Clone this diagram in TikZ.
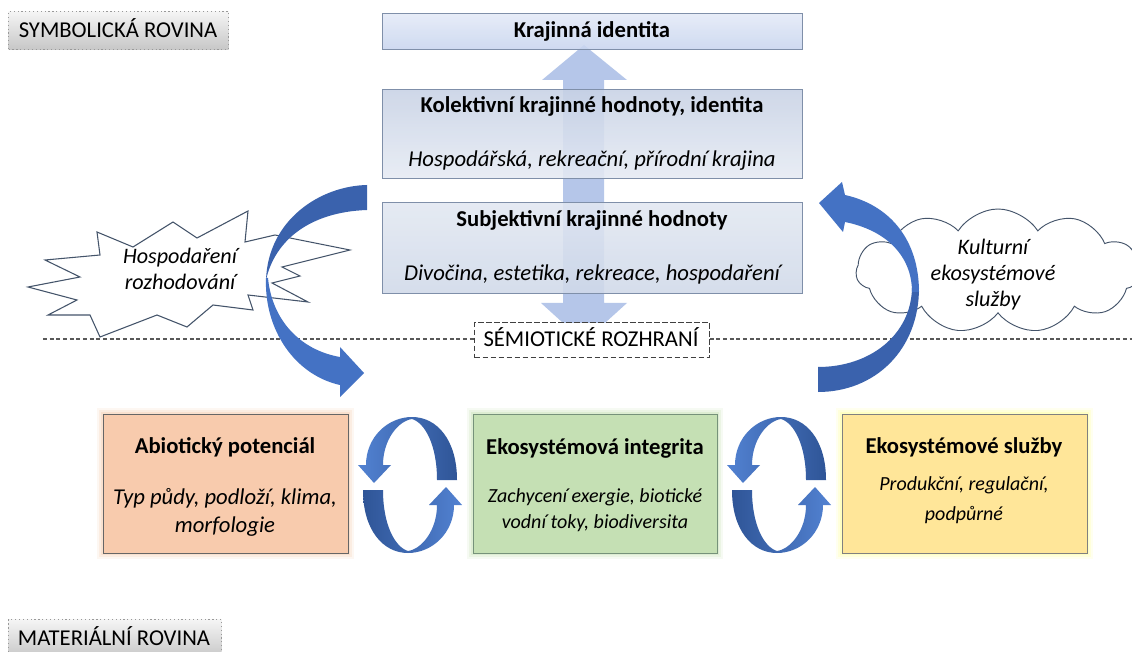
\documentclass[tikz,border=0pt]{standalone}
\usepackage{fontspec}
\setmainfont{Carlito}
\usetikzlibrary{shapes.symbols}
\definecolor{arrblue}{HTML}{4472C4}
\definecolor{arrdark}{HTML}{3A62AD}
\definecolor{cycL}{HTML}{5282D2}
\definecolor{cycD}{HTML}{2F5597}
\definecolor{bigarr}{HTML}{A9BDE6}
\definecolor{tbord}{HTML}{7F8FA9}
\definecolor{burst}{HTML}{44546A}
\definecolor{abiofill}{HTML}{F8CBAD}
\definecolor{abioglow}{HTML}{F4B183}
\definecolor{intfill}{HTML}{C5E0B4}
\definecolor{intglow}{HTML}{A9D18E}
\definecolor{ekofill}{HTML}{FFE699}
\definecolor{ekoglow}{HTML}{FFFF66}
\tikzset{
  lbl/.style={font=\fontsize{17}{20}\selectfont, anchor=base, inner sep=0},
  ttl/.style={font=\fontsize{17}{20}\selectfont\bfseries, anchor=base, inner sep=0},
  itl/.style={font=\fontsize{17}{20}\selectfont\itshape, anchor=base, inner sep=0},
  itlm/.style={font=\fontsize{16.6}{20}\selectfont\itshape, anchor=base, inner sep=0},
  itls/.style={font=\fontsize{15}{18}\selectfont\itshape, anchor=base, inner sep=0},
  planebox/.style={draw=black!40, dotted, line width=0.9pt, top color=black!4, bottom color=black!22, anchor=north west, inner sep=0},
  topbox/.style={draw=tbord, line width=0.8pt, anchor=north west, inner sep=0, fill opacity=0.88},
  matbox/.style={line width=0.8pt, anchor=north west, inner sep=0},
  cycarr/.pic={
    \path[left color=cycL, right color=cycD] (47,-5) .. controls (47,-45) and (27,-68) .. (2,-68)
      .. controls (-22,-68) and (-44,-48) .. (-44,-20) -- (-52,-20) -- (-36,-2) -- (-19,-20) -- (-27,-20)
      .. controls (-27,-45) and (-12,-64) .. (2,-66) .. controls (15,-62) and (27,-40) .. (27,-5) -- cycle;
    \path[left color=cycD, right color=cycL] (-47,5) .. controls (-47,45) and (-27,68) .. (-2,68)
      .. controls (22,68) and (44,48) .. (44,20) -- (52,20) -- (36,2) -- (19,20) -- (27,20)
      .. controls (27,45) and (12,64) .. (-2,66) .. controls (-15,62) and (-27,40) .. (-27,5) -- cycle;
  }
}
\begin{document}
\begin{tikzpicture}[x=0.75pt,y=-0.75pt]
\useasboundingbox (0,0) rectangle (1132,652);
\clip (0,0) rectangle (1132,652);
\fill[white] (0,0) rectangle (1132,652);

% plane labels
\node[planebox, minimum width=220*0.75pt, minimum height=38*0.75pt] (symb) at (8,11) {};
\node[lbl] (symbt) at (118,38) {SYMBOLICKÁ ROVINA};
\node[planebox, minimum width=213*0.75pt, minimum height=38*0.75pt] (mat) at (8,619) {};
\node[lbl] (matt) at (114,645) {MATERIÁLNÍ ROVINA};

% dashed interface line
\coordinate (dl) at (43,339);
\coordinate (dr) at (1132,339);
\draw[black!65, line width=0.9pt, dash pattern=on 3pt off 2pt] (dl) -- (dr);

% big double arrow
\fill[bigarr, opacity=0.85] (584,45) -- (627,80) -- (604,80) -- (604,303) -- (627,303) -- (584,342)
  -- (541,303) -- (563,303) -- (563,80) -- (542,80) -- cycle;

% top boxes
\node[topbox, top color={rgb,255:red,228;green,234;blue,247}, bottom color={rgb,255:red,200;green,213;blue,239},
  minimum width=420*0.75pt, minimum height=36*0.75pt] (ident) at (382,13) {};
\node[ttl] (identt) at (592,38) {Krajinná identita};
\node[topbox, top color={rgb,255:red,200;green,210;blue,229}, bottom color={rgb,255:red,230;green,235;blue,244},
  minimum width=420*0.75pt, minimum height=89*0.75pt] (kol) at (382,89) {};
\node[ttl] (kolt) at (592,113) {Kolektivní krajinné hodnoty, identita};
\node[itl] (kols) at (592,167) {Hospodářská, rekreační, přírodní krajina};
\node[topbox, top color={rgb,255:red,226;green,232;blue,242}, bottom color={rgb,255:red,208;green,217;blue,233},
  minimum width=420*0.75pt, minimum height=91*0.75pt] (sub) at (382,202) {};
\node[ttl] (subt) at (592,227) {Subjektivní krajinné hodnoty};
\node[itl] (subs) at (592,281) {Divočina, estetika, rekreace, hospodaření};

% semiotic interface
\node[draw=black!75, fill=white, line width=0.9pt, dash pattern=on 4pt off 2pt, anchor=north west, inner sep=0,
  minimum width=235*0.75pt, minimum height=35*0.75pt] (sem) at (474,322) {};
\node[lbl] (semt) at (591,347) {SÉMIOTICKÉ ROZHRANÍ};

% starburst
\draw[burst, fill=white, line width=0.8pt] (248,211) -- (245,242) -- (275,235) -- (350,250) -- (282,267)
  -- (300,276) -- (272,283) -- (308,302) -- (248,295) -- (253,310) -- (213,305) -- (187,327)
  -- (157,315) -- (100,337) -- (90,315) -- (48,315) -- (77,300) -- (28,287) -- (80,277)
  -- (45,260) -- (100,255) -- (97,232) -- (133,247) -- (173,222) -- (197,238) -- cycle;
\node[itlm] (burst1) at (180,264) {Hospodaření};
\node[itlm] (burst2) at (180,290) {rozhodování};

% left curved arrow
\fill[arrdark] (367,185) .. controls (320,186) and (268,220) .. (266,280)
  .. controls (275,240) and (310,212) .. (367,210) -- cycle;
\fill[arrblue] (266,278) .. controls (264,330) and (295,375) .. (340,385) -- (340,397) -- (364,373)
  -- (340,347) -- (340,357) .. controls (300,350) and (272,320) .. (268,278) -- cycle;

% cloud
\node[cloud, cloud puffs=11, cloud puff arc=115, aspect=2.4, draw=burst, fill=white, line width=0.7pt,
  minimum width=284*0.75pt, minimum height=124*0.75pt, inner sep=0] (cloud) at (998,271) {};
\node[itlm] (cl1) at (993,255) {Kulturní};
\node[itlm] (cl2) at (993,281) {ekosystémové};
\node[itlm] (cl3) at (993,307) {služby};

% right curved arrow
\fill[arrdark] (919,288) .. controls (919,350) and (875,392) .. (818,392) -- (818,367)
  .. controls (870,367) and (911,335) .. (912,288) -- cycle;
\fill[arrblue] (919,292) .. controls (919,240) and (890,205) .. (845,195) -- (842,182) -- (819,203)
  -- (843,232) -- (845,222) .. controls (885,230) and (912,255) .. (912,292) -- cycle;

% glows
\foreach \w/\o in {12/0.10,8/0.14,4/0.2} {
  \draw[abioglow, line width=\w*0.75pt, opacity=\o] (103,414) rectangle (348,553);
  \draw[intglow, line width=\w*0.75pt, opacity=\o] (473,414) rectangle (717,553);
  \draw[ekoglow, line width=\w*0.75pt, opacity=\o] (842,414) rectangle (1087,553);
}

% material boxes
\node[matbox, draw=black!60, fill=abiofill, minimum width=245*0.75pt, minimum height=139*0.75pt] (abio) at (103,414) {};
\node[ttl] (abiot) at (225,453) {Abiotický potenciál};
\node[itl] (abio1) at (225,504) {Typ půdy, podloží, klima,};
\node[itl] (abio2) at (225,532) {morfologie};

\node[matbox, draw={rgb,255:red,118;green,146;blue,122}, fill=intfill, minimum width=244*0.75pt, minimum height=139*0.75pt] (integ) at (473,414) {};
\node[ttl] (integt) at (595,454) {Ekosystémová integrita};
\node[itls] (integ1) at (595,502) {Zachycení exergie, biotické};
\node[itls] (integ2) at (595,528) {vodní toky, biodiversita};

\node[matbox, draw=black!50, fill=ekofill, minimum width=245*0.75pt, minimum height=139*0.75pt] (eko) at (842,414) {};
\node[ttl] (ekot) at (964,453) {Ekosystémové služby};
\node[itls] (eko1) at (964,490) {Produkční, regulační,};
\node[itls] (eko2) at (964,520) {podpůrné};

% cycle arrows
\pic (cycA) at (410,485) {cycarr};
\pic (cycB) at (779,485) {cycarr};
\end{tikzpicture}
\end{document}
